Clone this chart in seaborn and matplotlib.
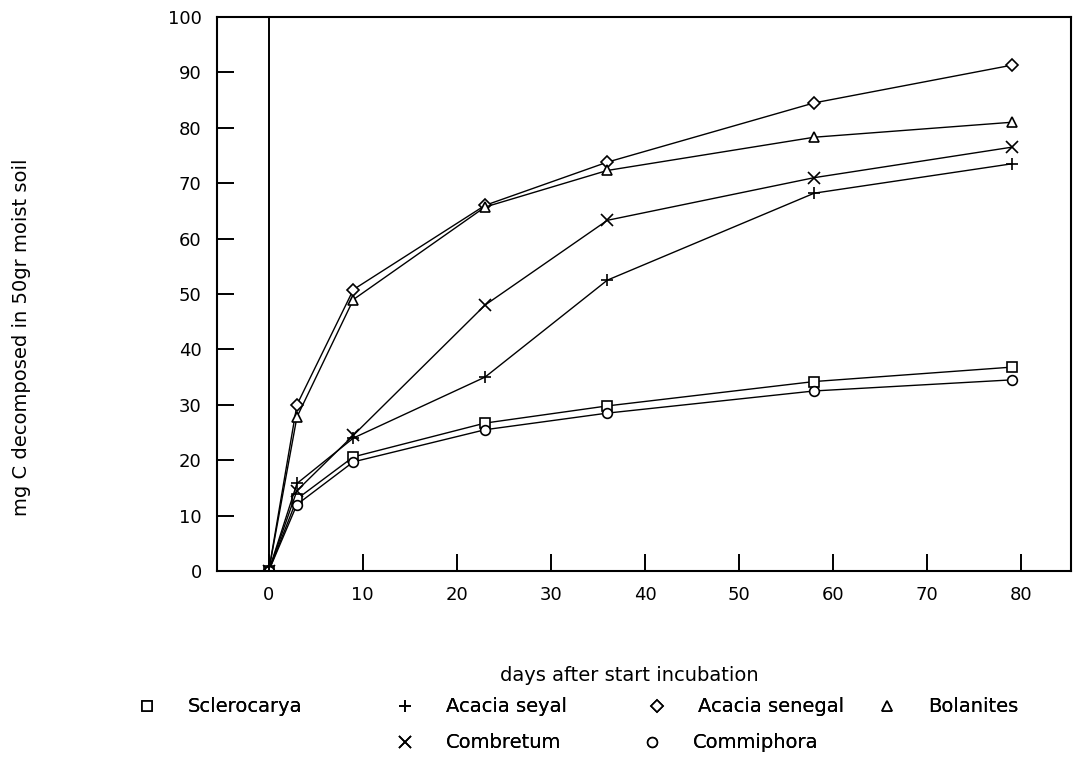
import numpy as np
import pandas as pd
import matplotlib
matplotlib.use("Agg")
import matplotlib.pyplot as plt
import seaborn as sns
from matplotlib.lines import Line2D

# days after start of incubation
days = [0, 3, 9, 23, 36, 58, 79]

# mg C decomposed in 50 gr moist soil
sclerocarya = [0, 13.0, 20.6, 26.7, 29.8, 34.2, 36.8]
acacia_seyal = [0, 15.8, 24.0, 35.0, 52.5, 68.2, 73.5]
acacia_senegal = [0, 30.0, 50.8, 66.0, 73.8, 84.5, 91.3]
bolanites = [0, 27.8, 49.0, 65.7, 72.3, 78.3, 81.0]
combretum = [0, 14.5, 24.5, 48.0, 63.3, 71.0, 76.5]
commiphora = [0, 12.0, 19.7, 25.5, 28.5, 32.5, 34.5]

species = ["Sclerocarya", "Acacia seyal", "Acacia senegal",
           "Bolanites", "Combretum", "Commiphora"]
series = [sclerocarya, acacia_seyal, acacia_senegal,
          bolanites, combretum, commiphora]
markers = {"Sclerocarya": "s", "Acacia seyal": "+", "Acacia senegal": "D",
           "Bolanites": "^", "Combretum": "x", "Commiphora": "o"}
msizes = {"Sclerocarya": 7, "Acacia seyal": 9, "Acacia senegal": 6,
          "Bolanites": 7, "Combretum": 9, "Commiphora": 7}

xticks = list(range(0, 90, 10))
yticks = list(range(0, 110, 10))


def main():
    sns.set_style("ticks")
    plt.rcParams["font.family"] = ["DejaVu Sans"]
    plt.rcParams["font.size"] = 13
    plt.rcParams["text.color"] = "black"
    plt.rcParams["axes.labelcolor"] = "black"

    fig = plt.figure(figsize=(10.92, 7.6), dpi=100)
    ax = fig.add_axes([217 / 1092, 1 - 571 / 760, 854 / 1092, 554 / 760])

    # one line per species, black with its own marker
    for name, vals in zip(species, series):
        df = pd.DataFrame({"day": days, "mgC": vals})
        sns.lineplot(data=df, x="day", y="mgC", color="black",
                     marker=markers[name], markersize=msizes[name],
                     linewidth=1.0, markeredgecolor="black",
                     markerfacecolor="white", markeredgewidth=1.2,
                     legend=False, ax=ax)

    # vertical line at the start of incubation
    ax.axvline(0, color="black", linewidth=1.4)

    ax.set_xlim(-5.5, 85.3)
    ax.set_ylim(0, 100)
    ax.set_xticks(xticks)
    ax.set_yticks(yticks)
    ax.tick_params(direction="in", length=12, width=1.4, pad=11,
                   labelsize=13, colors="black")
    for sp in ax.spines.values():
        sp.set_linewidth(1.5)
        sp.set_color("black")

    ax.set_xlabel("days after start incubation", fontsize=14)
    ax.xaxis.set_label_coords(0.483, -0.172)
    ax.set_ylabel("mg C decomposed in 50gr moist soil", fontsize=14)
    ax.yaxis.set_label_coords(-0.218, 0.422)

    # legend entries placed like the original, in two rows
    places = {"Sclerocarya": (147, 707), "Acacia seyal": (405, 707),
              "Acacia senegal": (657, 707), "Bolanites": (887, 707),
              "Combretum": (405, 743), "Commiphora": (652, 743)}
    fs = 14 * 100 / 72
    for name in species:
        px, py = places[name]
        h = Line2D([], [], linestyle="none", marker=markers[name],
                   color="black", markerfacecolor="white",
                   markersize=msizes[name], markeredgewidth=1.2)
        leg = fig.legend([h], [name], loc="center left",
                         bbox_to_anchor=((px - fs * 0.5) / 1092, 1 - py / 760),
                         frameon=False, borderpad=0, borderaxespad=0,
                         handlelength=1.0, handletextpad=1.6, fontsize=14)
        fig.add_artist(leg)

    fig.savefig("out.png", dpi=100)


if __name__ == "__main__":
    main()
